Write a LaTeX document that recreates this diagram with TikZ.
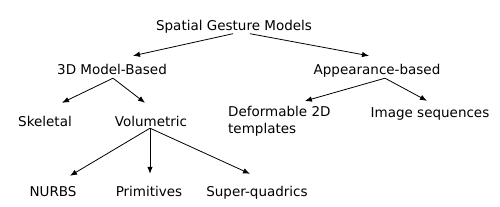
\documentclass[tikz,border=0pt]{standalone}
\usepackage{fontspec}
\setmainfont{DejaVu Sans}
\usetikzlibrary{arrows.meta,calc}

\begin{document}
\begin{tikzpicture}[
  x=1pt, y=-1pt,
  lbl/.style={inner sep=0pt, anchor=base, text height=10.5pt, text depth=3pt,
              font=\fontsize{13.5}{17}\selectfont},
  arr/.style={line width=0.8pt, -{Latex[length=7pt,width=5.5pt]}}
]
  \useasboundingbox (0,0) rectangle (500,206);
  % levels of the tree
  \node[lbl] (root) at (234,30.5) {Spatial Gesture Models};
  \node[lbl] (model) at (112,74) {3D Model-Based};
  \node[lbl] (appear) at (377,74) {Appearance-based};
  \node[lbl] (skel) at (45,126) {Skeletal};
  \node[lbl] (vol) at (151,126) {Volumetric};
  \node[lbl, anchor=north west, align=left, text height=, text depth=] (deform) at (228,106.5)
    {Deformable 2D\\templates};
  \node[lbl] (image) at (430,117) {Image sequences};
  \node[lbl] (nurbs) at (53,196) {NURBS};
  \node[lbl] (prim) at (149,196) {Primitives};
  \node[lbl] (super) at (257,196) {Super-quadrics};

  % connectors
  \draw[arr] ($(root.south)+(-1,0)$) -- ($(model.north)+(21,-7.5)$);
  \draw[arr] ($(root.south)+(16,0)$) -- ($(appear.north)+(-8,-7.5)$);
  \draw[arr] ($(model.south)+(1,1)$) -- ($(skel.north)+(17,-12.5)$);
  \draw[arr] ($(model.south)+(1,1)$) -- ($(vol.north)+(-6,-12.5)$);
  \draw[arr] ($(appear.south)+(8,1)$) -- ($(deform.north)+(25.5,-5.5)$);
  \draw[arr] ($(appear.south)+(8,1)$) -- ($(image.north)+(-3,-5.5)$);
  \draw[arr] ($(vol.south)+(-1,-1)$) -- ($(nurbs.north)+(17,-9.5)$);
  \draw[arr] ($(vol.south)+(-1,-1)$) -- ($(prim.north)+(1,-11.5)$);
  \draw[arr] ($(vol.south)+(-1,-1)$) -- ($(super.north)+(-7,-11.5)$);
\end{tikzpicture}
\end{document}
